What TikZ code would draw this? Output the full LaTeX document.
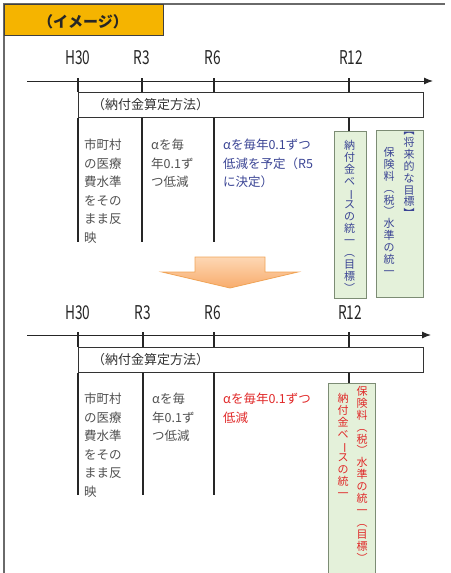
\documentclass[tikz,border=0pt]{standalone}
\usepackage{fontspec}
\usepackage{graphicx}
\setmainfont{Noto Sans CJK JP}
\newfontfamily\labfont[FakeStretch=0.72]{Noto Sans CJK JP}
\usetikzlibrary{arrows.meta}
\definecolor{gold}{HTML}{F5B400}
\definecolor{framegray}{HTML}{6A6A6A}
\definecolor{txtgray}{HTML}{505050}
\definecolor{txtblue}{HTML}{3A4494}
\definecolor{txtred}{HTML}{E02828}
\definecolor{gfill}{HTML}{E4F1DA}
\definecolor{gdraw}{HTML}{7C8C74}
\definecolor{arrfillA}{HTML}{FDD7B4}
\definecolor{arrfillB}{HTML}{F8AC6C}
\definecolor{arrdraw}{HTML}{F0A458}
\newcommand{\vbar}{\rotatebox[origin=c]{-90}{ー}}
\tikzset{
  yearlab/.style={font=\labfont\fontsize{19}{19}\selectfont, text=black!85, inner sep=0pt},
  axisline/.style={draw=black!85, line width=1pt, -{Latex[length=9pt,width=7pt]}},
  tickline/.style={draw=black!85, line width=1.2pt},
  calcbox/.style={draw=black!80, line width=1.2pt, fill=white, minimum width=345pt, minimum height=25pt, anchor=north west, inner sep=0pt},
  calctext/.style={font=\fontsize{13}{13}\selectfont, text=black!80, inner sep=0pt, anchor=west},
  bodytext/.style={font=\fontsize{12.5}{18.5}\selectfont, align=left, inner sep=0pt, anchor=north west},
  gbox/.style={draw=gdraw, line width=1.2pt, fill=gfill},
  vtext/.style={font=\fontsize{11}{11.9}\selectfont, align=center, inner sep=0pt, anchor=north}
}
\begin{document}
\begin{tikzpicture}[x=1pt,y=-1pt]
\useasboundingbox (0,0) rectangle (450,573);
% outer frame
\draw[framegray, line width=1.6pt] (4,573) -- (4,4) -- (445,4);
% title tag
\node[draw=black!75, line width=1pt, fill=gold, minimum width=159pt, minimum height=31pt, anchor=north west, inner sep=0pt] (tag) at (4,4) {};
\node[font=\fontsize{15}{15}\selectfont\bfseries, text=black!85, inner sep=0pt] (tagtext) at (83,22) {（イメージ）};

% ================= TOP TIMELINE =================
\coordinate (a1s) at (27,81);
\coordinate (a1e) at (433,81);
\draw[axisline] (a1s) -- (a1e);
\node[yearlab] (t1h30) at (78,58) {H30};
\node[yearlab] (t1r3) at (142,58) {R3};
\node[yearlab] (t1r6) at (213,58) {R6};
\node[yearlab] (t1r12) at (351,58) {R12};
\node[calcbox] (calc1) at (78,92) {};
\node[calctext] (calc1t) at (92,104.5) {（納付金算定方法）};
\coordinate (k1a) at (78,78);  \coordinate (k1b) at (142,78);
\coordinate (k1c) at (214,78); \coordinate (k1d) at (349,78);
\draw[tickline] (k1a) -- (calc1.north west);
\draw[tickline] (k1b) -- (k1b |- calc1.north);
\draw[tickline] (k1c) -- (k1c |- calc1.north);
\draw[tickline] (k1d) -- (k1d |- calc1.north);
\coordinate (d1a) at (78,242); \coordinate (d1b) at (142,242); \coordinate (d1c) at (214,242);
\draw[tickline] (calc1.south west) -- (d1a);
\draw[tickline] (d1b |- calc1.south) -- (d1b);
\draw[tickline] (d1c |- calc1.south) -- (d1c);
\node[bodytext, text=txtgray] (m1) at (84,139) {市町村\\の医療\\費水準\\をその\\まま反\\映};
\node[bodytext, text=txtgray] (m2) at (151,139) {αを毎\\年0.1ず\\つ低減};
\node[bodytext, text=txtblue] (m3) at (223,139) {αを毎年0.1ずつ\\低減を予定（R5\\に決定）};
% green boxes
\node[gbox, minimum width=32pt, minimum height=167pt, anchor=north west, inner sep=0pt] (g1) at (334,131) {};
\node[gbox, minimum width=47pt, minimum height=167pt, anchor=north west, inner sep=0pt] (g2) at (376,130) {};
\draw[tickline] (k1d |- calc1.south) -- (k1d |- g1.north);
\node[vtext, text=txtblue] (g1t) at (349.5,140) {納\\付\\金\\ベ\\\vbar\\ス\\の\\統\\一\\︵\\目\\標\\︶};
\node[vtext, text=txtblue] (g2r) at (409,132) {︻\\将\\来\\的\\な\\目\\標\\︼};
\node[vtext, text=txtblue] (g2l) at (389,147) {保\\険\\料\\︵\\税\\︶\\水\\準\\の\\統\\一};

% ================= ARROW =================
\path[top color=arrfillA, bottom color=arrfillB, draw=arrdraw, line width=0.8pt]
  (195,257) -- (265,257) -- (265,272) -- (298,272) -- (230,288) -- (162,272) -- (195,272) -- cycle;

% ================= BOTTOM TIMELINE =================
\coordinate (a2s) at (27,335);
\coordinate (a2e) at (431,335);
\draw[axisline] (a2s) -- (a2e);
\node[yearlab] (t2h30) at (78,313) {H30};
\node[yearlab] (t2r3) at (143,313) {R3};
\node[yearlab] (t2r6) at (213,313) {R6};
\node[yearlab] (t2r12) at (350,313) {R12};
\node[calcbox] (calc2) at (78,347) {};
\node[calctext] (calc2t) at (92,359.5) {（納付金算定方法）};
\coordinate (k2a) at (78,332);  \coordinate (k2b) at (143,332);
\coordinate (k2c) at (214,332); \coordinate (k2d) at (349,332);
\draw[tickline] (k2a) -- (calc2.north west);
\draw[tickline] (k2b) -- (k2b |- calc2.north);
\draw[tickline] (k2c) -- (k2c |- calc2.north);
\draw[tickline] (k2d) -- (k2d |- calc2.north);
\coordinate (d2a) at (78,495); \coordinate (d2b) at (143,495); \coordinate (d2c) at (214,495);
\draw[tickline] (calc2.south west) -- (d2a);
\draw[tickline] (d2b |- calc2.south) -- (d2b);
\draw[tickline] (d2c |- calc2.south) -- (d2c);
\node[bodytext, text=txtgray] (n1) at (84,393) {市町村\\の医療\\費水準\\をその\\まま反\\映};
\node[bodytext, text=txtgray] (n2) at (152,393) {αを毎\\年0.1ず\\つ低減};
\node[bodytext, text=txtred] (n3) at (223,393) {αを毎年0.1ずつ\\低減};
\node[gbox, minimum width=47pt, minimum height=190pt, anchor=north west, inner sep=0pt] (g3) at (328,383) {};
\draw[tickline] (k2d |- calc2.south) -- (k2d |- g3.north);
\node[vtext, text=txtred] (g3r) at (362,386) {保\\険\\料\\︵\\税\\︶\\水\\準\\の\\統\\一\\︵\\目\\標\\︶};
\node[vtext, text=txtred] (g3l) at (343,393) {納\\付\\金\\ベ\\\vbar\\ス\\の\\統\\一};
\end{tikzpicture}
\end{document}
